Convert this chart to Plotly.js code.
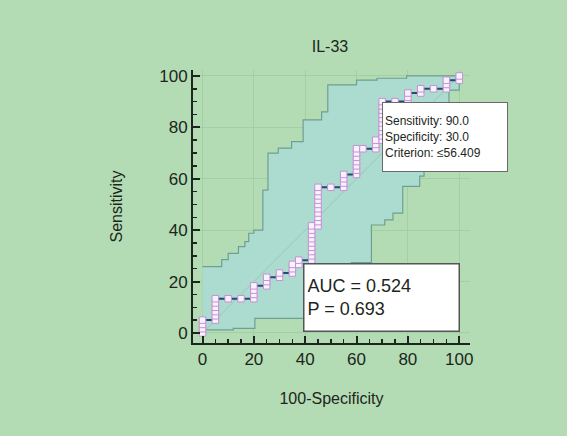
<!DOCTYPE html>
<html>
<head>
<meta charset="utf-8">
<script src="https://cdn.plot.ly/plotly-3.0.1.min.js"></script>
<style>html,body{margin:0;padding:0;background:#b4dcb4;}#chart{width:567px;height:436px;}</style>
</head>
<body>
<div id="chart"></div>
<script>
// ROC curve points (100-Specificity, Sensitivity)
const rocX = [0,0,0,0, 5,5,5,5,5,5, 10,15,20,20,20,20, 25,25,25, 30,30, 35,35,35, 37.5,37.5,
  42.5,42.5,42.5,42.5,42.5,42.5,42.5,42.5,42.5,
  45,45,45,45,45,45,45,45,45,45,
  50,55,55,55,55, 60,60,60,60,60,60,60, 62.5,67.5,67.5,67.5,
  70,70,70,70,70,70,70,70,70,70,
  75,80,80,80, 85,85,90,95,95,95,100,100];
const rocY = [0,1.67,3.33,5, 5,6.67,8.33,10,11.67,13.33, 13.33,13.33,13.33,15,16.67,18.33, 18.33,20,21.67, 21.67,23.33, 23.33,25,26.67, 26.67,28.33,
  28.33,30,31.67,33.33,35,36.67,38.33,40,41.67,
  41.67,43.33,45,46.67,48.33,50,51.67,53.33,55,56.67,
  56.67,56.67,58.33,60,61.67, 61.67,63.33,65,66.67,68.33,70,71.67, 71.67,71.67,73.33,75,
  75,76.67,78.33,80,81.67,83.33,85,86.67,88.33,90,
  90,90,91.67,93.33, 93.33,95,95,95,96.67,98.33,98.33,100];

// 95% confidence bounds (step lines)
const upperX = [0, 7.5, 10, 14, 16.5, 18, 20, 23.5, 25.5, 29.5, 34.7, 39.2, 46.4, 48.8, 60, 68, 79.5, 100];
const upperY = [25.8, 28.5, 31, 33.6, 35.5, 38.8, 40, 55.6, 70, 71.9, 74.4, 82.9, 86, 96.5, 98.4, 99.1, 100, 100];
const lowerX = [0, 12, 20.4, 40, 47, 53, 58, 63, 65.8, 71, 74.2, 78, 84.6, 86.3, 88, 92, 96, 100];
const lowerY = [1.2, 1.8, 5.7, 10, 15, 20, 27.4, 27.4, 42, 44, 46.6, 57, 61, 68.6, 75, 85, 94.5, 100];

const diagX = [0, 100];
const diagY = [0, 100];

const tickVals = [0, 20, 40, 60, 80, 100];
const tickText = ['0', '20', '40', '60', '80', '100'];

const critPoint = {x: 70, y: 90};
const critLines = ['Sensitivity: 90.0', 'Specificity: 30.0', 'Criterion: \u226456.409'];
const aucLines = ['AUC = 0.524', 'P = 0.693'];
const titleText = 'IL-33';
const xTitle = '100-Specificity';
const yTitle = 'Sensitivity';

const FONT = 'Liberation Sans, Arial, sans-serif';
const BG = '#b4dcb4';
const INK = '#1c261c';

const traces = [
  {x: lowerX, y: lowerY, type: 'scatter', mode: 'lines', line: {shape: 'hv', color: '#6f9f92', width: 1.2}, hoverinfo: 'skip'},
  {x: upperX, y: upperY, type: 'scatter', mode: 'lines', line: {shape: 'hv', color: '#6f9f92', width: 1.2}, fill: 'tonexty', fillcolor: '#abdccf', hoverinfo: 'skip'},
  {x: diagX, y: diagY, type: 'scatter', mode: 'lines', line: {color: '#9fc4b6', width: 1}, hoverinfo: 'skip'},
  {x: rocX, y: rocY, type: 'scatter', mode: 'lines+markers',
   line: {color: '#234a78', width: 2},
   marker: {symbol: 'square', size: 6.5, color: '#f6f2ff', line: {color: '#c98fd2', width: 1}}}
];

const axisCommon = {
  tickvals: tickVals, ticktext: tickText,
  ticks: 'inside', ticklen: 7, tickwidth: 2, tickcolor: INK,
  minor: {dtick: 5, tick0: 0, ticks: 'inside', ticklen: 4, tickwidth: 1.5, tickcolor: INK, showgrid: false},
  showline: true, linecolor: INK, linewidth: 2, mirror: false,
  showgrid: true, gridcolor: '#a4cfa4', gridwidth: 1,
  zeroline: false, automargin: false,
  tickfont: {family: FONT, size: 17, color: INK}
};

const layout = {
  width: 567, height: 436,
  paper_bgcolor: BG, plot_bgcolor: BG,
  showlegend: false,
  margin: {l: 193, r: 97, t: 70, b: 93},
  title: {text: titleText, font: {family: FONT, size: 16, color: INK}, x: 0.582, xanchor: 'center', y: 0.893, yanchor: 'middle'},
  xaxis: Object.assign({}, axisCommon, {range: [-3.7, 104.2],
    title: {text: xTitle, font: {family: FONT, size: 16, color: INK}, standoff: 24}}),
  yaxis: Object.assign({}, axisCommon, {range: [-3.9, 102.3],
    title: {text: yTitle, font: {family: FONT, size: 16, color: INK}, standoff: 33}}),
  annotations: [
    {x: critPoint.x, y: critPoint.y, xref: 'x', yref: 'y', xanchor: 'left', yanchor: 'top',
     text: critLines.join('<br>'), showarrow: false, align: 'left',
     font: {family: FONT, size: 12, color: INK},
     bgcolor: '#ffffff', bordercolor: '#6a6a6a', borderwidth: 1, borderpad: 2,
     width: 120, height: 64},
    {x: 39.3, y: 0.3, xref: 'x', yref: 'y', xanchor: 'left', yanchor: 'bottom',
     text: aucLines.join('<br>'), showarrow: false, align: 'left',
     font: {family: FONT, size: 18, color: INK},
     bgcolor: '#ffffff', bordercolor: '#555555', borderwidth: 1.5, borderpad: 3,
     width: 148, height: 60}
  ]
};

Plotly.newPlot('chart', traces, layout, {displayModeBar: false, staticPlot: true});
</script>
</body>
</html>
